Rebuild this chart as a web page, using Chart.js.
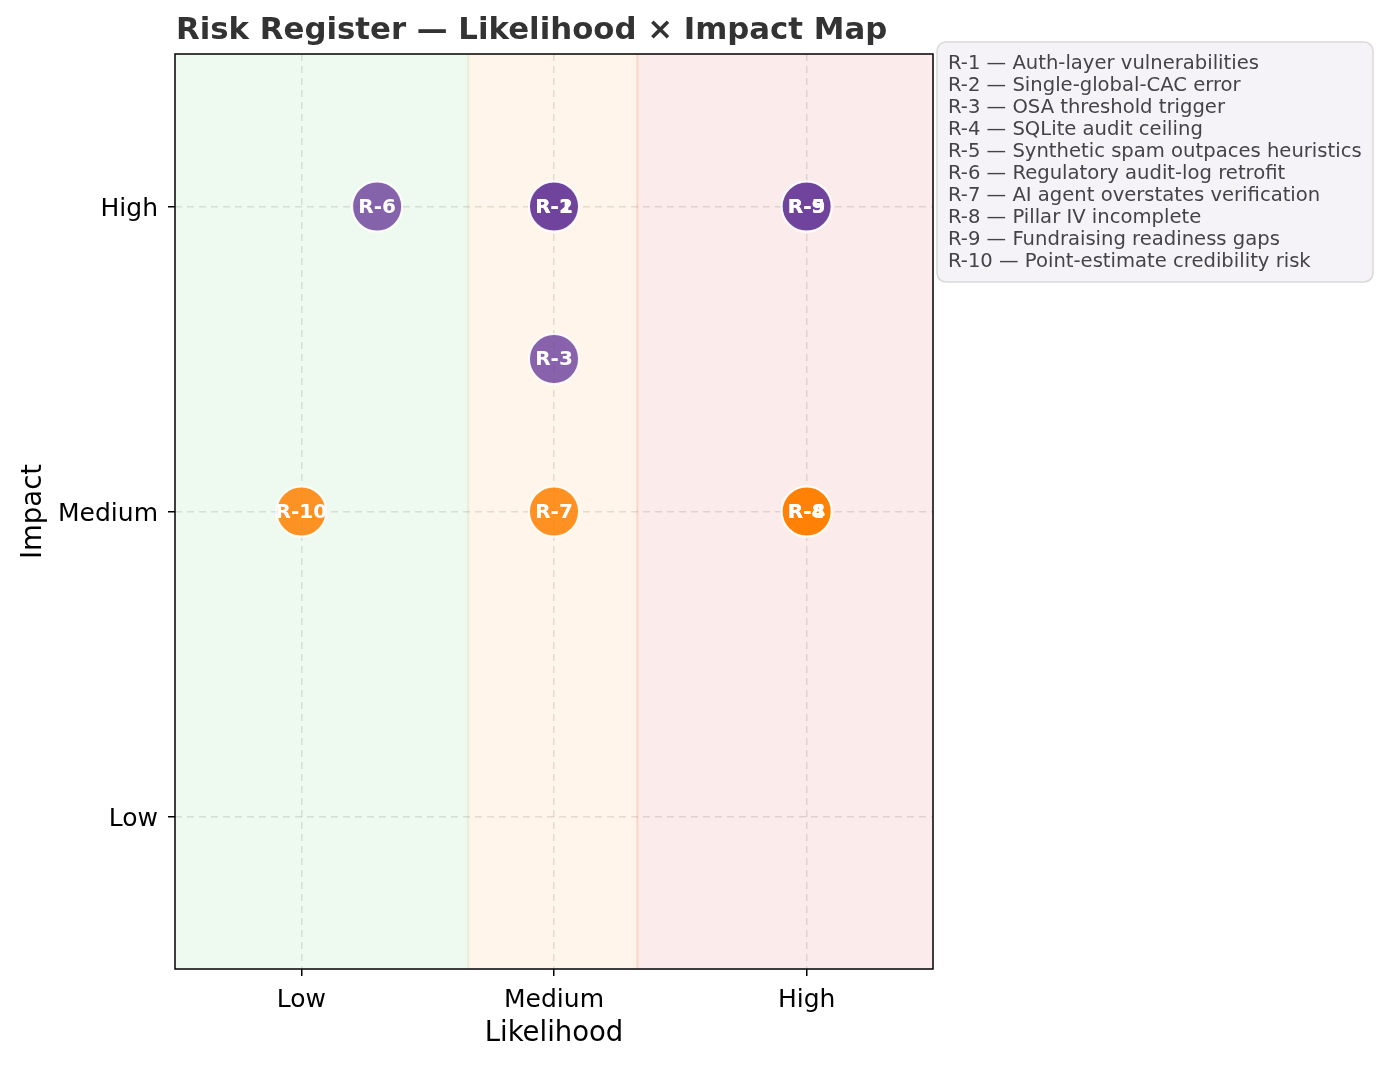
<!DOCTYPE html>
<html>
<head>
<meta charset="utf-8">
<script src="https://cdn.jsdelivr.net/npm/chart.js@4/dist/chart.umd.min.js"></script>
<style>
  html, body { margin: 0; padding: 0; background: #fff; }
  #wrap { width: 1378px; height: 1067px; }
</style>
</head>
<body>
<div id="wrap"><canvas id="riskChart" width="1378" height="1067"></canvas></div>
<script>
const riskIds = ["R-1", "R-2", "R-3", "R-4", "R-5", "R-6", "R-7", "R-8", "R-9", "R-10"];
const riskNames = [
  "Auth-layer vulnerabilities",
  "Single-global-CAC error",
  "OSA threshold trigger",
  "SQLite audit ceiling",
  "Synthetic spam outpaces heuristics",
  "Regulatory audit-log retrofit",
  "AI agent overstates verification",
  "Pillar IV incomplete",
  "Fundraising readiness gaps",
  "Point-estimate credibility risk"
];
const likelihood = [2, 2, 2, 3, 3, 1.3, 2, 3, 3, 1];
const impact = [3, 3, 2.5, 2, 3, 3, 2, 2, 3, 2];

const levelTicks = [1, 2, 3];
const levelLabels = ["Low", "Medium", "High"];

// likelihood zones: low / medium / high
const zoneEdges = [0.5, 1.66, 2.33, 3.5];
const zoneFills = ["#eefaf0", "#fff5ea", "#fcebeb"];
const zoneLines = ["#e6efd6", "#fdd6c4"];

const FONT = "'DejaVu Sans', sans-serif";
const purple = "rgba(106, 61, 154, 0.8)";
const orange = "rgba(255, 127, 0, 0.85)";

const pointColors = impact.map(v => v >= 2.5 ? purple : orange);

const zonesPlugin = {
  id: "zones",
  beforeDraw(chart) {
    const { ctx, chartArea, scales } = chart;
    ctx.save();
    for (let i = 0; i < zoneFills.length; i++) {
      const x0 = scales.x.getPixelForValue(zoneEdges[i]);
      const x1 = scales.x.getPixelForValue(zoneEdges[i + 1]);
      ctx.fillStyle = zoneFills[i];
      ctx.fillRect(x0, chartArea.top, x1 - x0, chartArea.bottom - chartArea.top);
    }
    ctx.lineWidth = 2;
    for (let i = 0; i < zoneLines.length; i++) {
      const x = scales.x.getPixelForValue(zoneEdges[i + 1]);
      ctx.strokeStyle = zoneLines[i];
      ctx.beginPath();
      ctx.moveTo(x, chartArea.top);
      ctx.lineTo(x, chartArea.bottom);
      ctx.stroke();
    }
    ctx.restore();
  }
};

const labelsPlugin = {
  id: "pointLabels",
  afterDatasetsDraw(chart) {
    const { ctx } = chart;
    const meta = chart.getDatasetMeta(0);
    ctx.save();
    ctx.fillStyle = "#fff";
    ctx.font = "bold 20px " + FONT;
    ctx.textAlign = "center";
    ctx.textBaseline = "middle";
    meta.data.forEach((pt, i) => {
      ctx.fillText(riskIds[i], pt.x, pt.y + 1);
    });
    ctx.restore();
  }
};

const frameAndTextPlugin = {
  id: "frameText",
  afterDraw(chart) {
    const { ctx, chartArea } = chart;
    ctx.save();
    // frame
    ctx.strokeStyle = "#000";
    ctx.lineWidth = 1.5;
    ctx.strokeRect(chartArea.left, chartArea.top,
      chartArea.right - chartArea.left, chartArea.bottom - chartArea.top);

    // title
    ctx.fillStyle = "#333";
    ctx.font = "bold 30.8px " + FONT;
    ctx.textAlign = "left";
    ctx.textBaseline = "alphabetic";
    ctx.fillText("Risk Register \u2014 Likelihood \u00d7 Impact Map", chartArea.left + 1, 39);

    // legend box
    const bx = 937, by = 42, bw = 436, bh = 240, r = 9;
    ctx.beginPath();
    ctx.roundRect(bx, by, bw, bh, r);
    ctx.fillStyle = "#f5f3f8";
    ctx.fill();
    ctx.strokeStyle = "#d9d9d9";
    ctx.lineWidth = 1.5;
    ctx.stroke();

    ctx.fillStyle = "#444";
    ctx.font = "19.6px " + FONT;
    ctx.textBaseline = "middle";
    riskIds.forEach((id, i) => {
      ctx.fillText(id + " \u2014 " + riskNames[i], bx + 11, by + 22 + i * 22);
    });
    ctx.restore();
  }
};

const levelLabel = v => {
  const i = levelTicks.indexOf(v);
  return i >= 0 ? levelLabels[i] : "";
};

const axisCommon = {
  type: "linear",
  min: 0.5,
  max: 3.5,
  afterBuildTicks: scale => { scale.ticks = levelTicks.map(v => ({ value: v })); },
  border: { display: false, dash: [7, 5] },
  grid: {
    color: "rgba(0, 0, 0, 0.11)",
    lineWidth: 1.5,
    tickLength: 7,
    tickColor: "#000",
    tickWidth: 1.5,
    tickBorderDash: []
  }
};

new Chart(document.getElementById("riskChart"), {
  type: "scatter",
  data: {
    datasets: [{
      data: likelihood.map((x, i) => ({ x, y: impact[i] })),
      backgroundColor: pointColors,
      borderColor: "rgba(255, 255, 255, 0.9)",
      borderWidth: 2,
      pointRadius: 25
    }]
  },
  options: {
    responsive: false,
    animation: false,
    events: [],
    layout: { padding: { left: 0, top: 54, right: 445, bottom: 0 } },
    plugins: {
      legend: { display: false },
      tooltip: { enabled: false }
    },
    scales: {
      x: {
        ...axisCommon,
        afterFit: scale => { scale.height = 98; },
        ticks: {
          color: "#000",
          font: { family: FONT, size: 25 },
          padding: 9,
          callback: levelLabel
        },
        title: {
          display: true,
          text: "Likelihood",
          color: "#000",
          font: { family: FONT, size: 27.5 },
          padding: { top: 0, bottom: 17 }
        }
      },
      y: {
        ...axisCommon,
        afterFit: scale => { scale.width = 175; },
        ticks: {
          color: "#000",
          font: { family: FONT, size: 25 },
          padding: 10,
          labelOffset: 3,
          callback: levelLabel
        },
        title: {
          display: true,
          text: "Impact",
          color: "#000",
          font: { family: FONT, size: 27.5 },
          padding: { top: 17, bottom: 0 }
        }
      }
    }
  },
  plugins: [zonesPlugin, labelsPlugin, frameAndTextPlugin]
});
</script>
</body>
</html>
